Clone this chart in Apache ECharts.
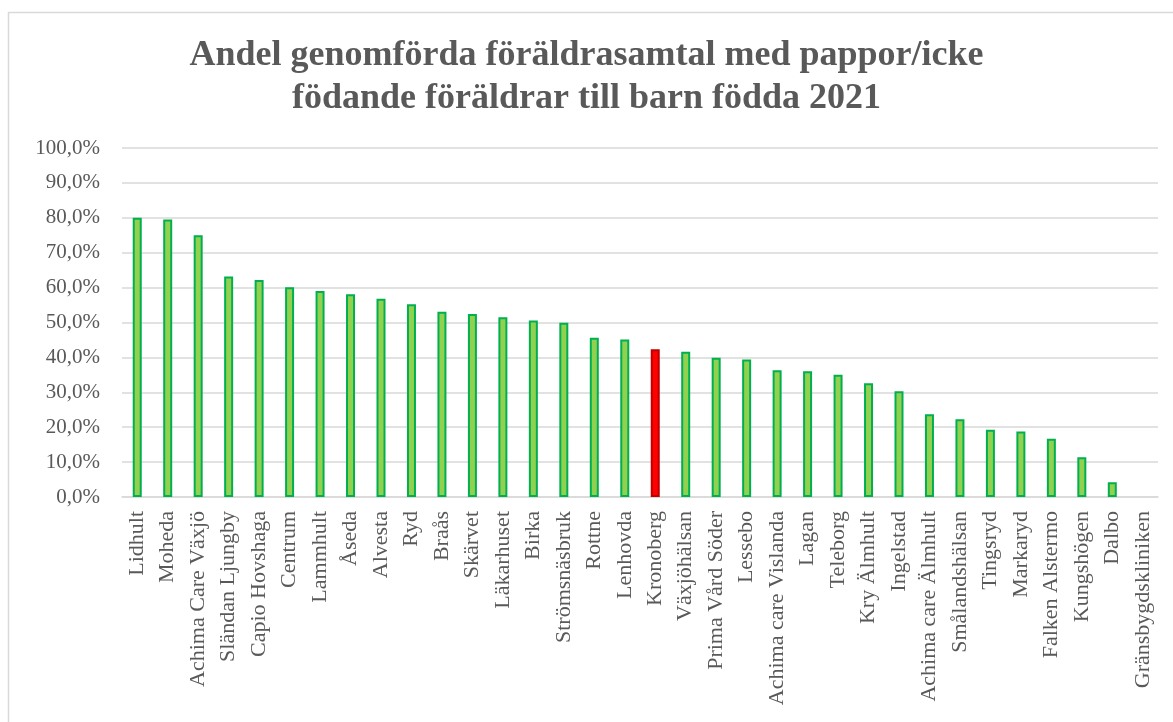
<!DOCTYPE html>
<html>
<head>
<meta charset="utf-8">
<script src="https://cdn.jsdelivr.net/npm/echarts@6/dist/echarts.min.js"></script>
<style>
  html, body { margin: 0; padding: 0; background: #fff; }
  #chart { width: 1173px; height: 722px; }
</style>
</head>
<body>
<div id="chart"></div>
<script>
// Share of completed parent talks with fathers / non-birthing parents, children born 2021
const units = [
  'Lidhult', 'Moheda', 'Achima Care Växjö', 'Sländan Ljungby', 'Capio Hovshaga',
  'Centrum', 'Lammhult', 'Åseda', 'Alvesta', 'Ryd', 'Braås', 'Skärvet',
  'Läkarhuset', 'Birka', 'Strömsnäsbruk', 'Rottne', 'Lenhovda', 'Kronoberg',
  'Växjöhälsan', 'Prima Vård Söder', 'Lessebo', 'Achima care Vislanda', 'Lagan',
  'Teleborg', 'Kry Älmhult', 'Ingelstad', 'Achima care Älmhult', 'Smålandshälsan',
  'Tingsryd', 'Markaryd', 'Falken Alstermo', 'Kungshögen', 'Dalbo', 'Gränsbygdskliniken'
];
const shares = [
  80.0, 79.5, 75.0, 63.2, 62.2,
  60.1, 59.0, 58.1, 56.8, 55.2, 53.1, 52.4,
  51.5, 50.6, 49.9, 45.6, 45.1, 42.3,
  41.6, 39.9, 39.4, 36.3, 36.0,
  35.0, 32.6, 30.3, 23.7, 22.3,
  19.3, 18.8, 16.7, 11.4, 4.2, 0
];
const countyTotal = 'Kronoberg';

const textColor = '#595959';
const serif = '"Liberation Serif", "DejaVu Serif", serif';

const chart = echarts.init(document.getElementById('chart'), null, { renderer: 'canvas' });

function barItem(v, i) {
  if (units[i] === countyTotal) {
    return { value: v, itemStyle: { color: '#ff0000', borderColor: '#c00000' } };
  }
  if (v === 0) {
    return { value: v, itemStyle: { borderWidth: 0 } };
  }
  return v;
}

chart.setOption({
  animation: false,
  backgroundColor: '#ffffff',
  graphic: [{
    type: 'rect',
    shape: { x: 8.5, y: 12.5, width: 1200, height: 760 },
    style: { fill: 'none', stroke: '#d9d9d9', lineWidth: 1.5 },
    silent: true
  }],
  title: {
    text: 'Andel genomförda föräldrasamtal med pappor/icke\nfödande föräldrar till barn födda 2021',
    left: 'center',
    top: 29,
    textStyle: {
      fontFamily: serif,
      fontSize: 36,
      fontWeight: 'bold',
      color: textColor,
      lineHeight: 43
    }
  },
  grid: { left: 122, right: 15, top: 148, bottom: 225, containLabel: false },
  xAxis: {
    type: 'category',
    data: units,
    axisLine: { lineStyle: { color: '#d9d9d9', width: 1.5 } },
    axisTick: { show: false },
    axisLabel: {
      interval: 0,
      rotate: 90,
      margin: 14,
      fontFamily: serif,
      fontSize: 22,
      color: textColor
    }
  },
  yAxis: {
    type: 'value',
    min: 0,
    max: 100,
    interval: 10,
    axisLine: { show: false },
    axisTick: { show: false },
    splitLine: { lineStyle: { color: '#d9d9d9', width: 1.5 } },
    axisLabel: {
      margin: 22,
      fontFamily: serif,
      fontSize: 21,
      color: textColor,
      formatter: v => v.toFixed(1).replace('.', ',') + '%'
    }
  },
  series: [{
    type: 'bar',
    barWidth: 9,
    data: shares.map(barItem),
    itemStyle: { color: '#92d050', borderColor: '#00b050', borderWidth: 2 }
  }]
});
</script>
</body>
</html>
